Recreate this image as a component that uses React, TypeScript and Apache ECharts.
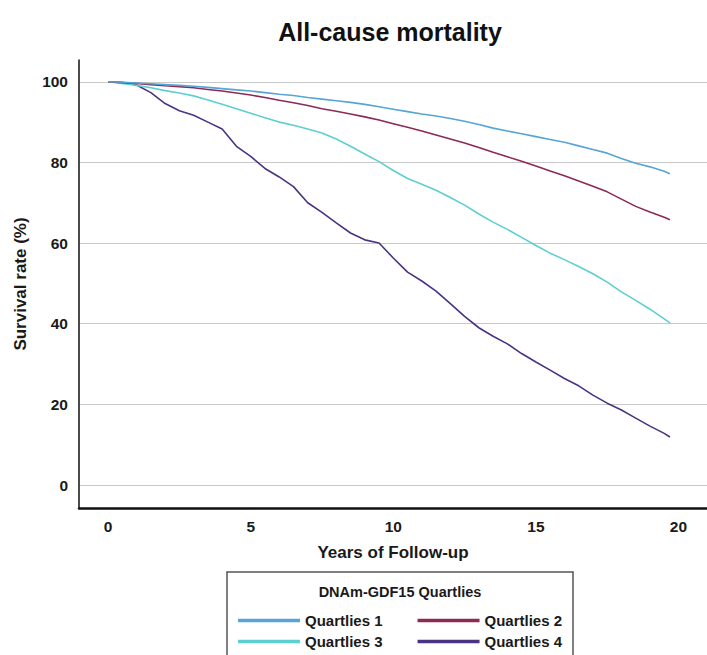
import React, { useEffect, useRef } from "react";
import * as echarts from "echarts";

const years = [0, 0.5, 1, 1.5, 2, 2.5, 3, 3.5, 4, 4.5, 5, 5.5, 6, 6.5, 7, 7.5, 8, 8.5, 9, 9.5, 10, 10.5, 11, 11.5, 12, 12.5, 13, 13.5, 14, 14.5, 15, 15.5, 16, 16.5, 17, 17.5, 18, 18.5, 19, 19.5, 19.7];

const q1 = [100, 99.9, 99.7, 99.5, 99.3, 99.1, 98.9, 98.6, 98.3, 98.0, 97.7, 97.3, 96.9, 96.6, 96.1, 95.7, 95.3, 94.9, 94.4, 93.8, 93.2, 92.6, 92.0, 91.5, 90.9, 90.2, 89.4, 88.5, 87.8, 87.1, 86.4, 85.7, 85.0, 84.1, 83.2, 82.3, 81.0, 79.8, 78.9, 77.8, 77.2];
const q2 = [100, 99.8, 99.6, 99.3, 99.0, 98.8, 98.5, 98.1, 97.7, 97.2, 96.7, 96.1, 95.4, 94.8, 94.1, 93.3, 92.7, 92.0, 91.3, 90.5, 89.6, 88.7, 87.8, 86.8, 85.8, 84.8, 83.7, 82.5, 81.4, 80.3, 79.1, 77.9, 76.7, 75.4, 74.1, 72.7, 70.9, 69.1, 67.7, 66.4, 65.8];
const q3 = [100, 99.6, 99.1, 98.5, 97.8, 97.2, 96.5, 95.5, 94.4, 93.3, 92.2, 91.1, 90.0, 89.2, 88.3, 87.3, 85.8, 84.0, 82.1, 80.2, 78.0, 76.0, 74.6, 73.1, 71.3, 69.4, 67.2, 65.2, 63.4, 61.4, 59.4, 57.5, 55.9, 54.2, 52.4, 50.3, 47.9, 45.8, 43.6, 41.2, 40.2];
const q4 = [100, 99.8, 99.2, 97.3, 94.6, 92.8, 91.7, 90.0, 88.3, 84.0, 81.5, 78.5, 76.4, 74.0, 70.0, 67.6, 65.0, 62.5, 60.8, 60.0, 56.3, 52.8, 50.6, 48.1, 45.0, 41.8, 39.0, 36.9, 35.0, 32.6, 30.5, 28.5, 26.4, 24.6, 22.3, 20.3, 18.6, 16.6, 14.6, 12.8, 11.9];

const seriesNames = ["Quartlies 1", "Quartlies 2", "Quartlies 3", "Quartlies 4"];
const seriesColors = ["#56a5d6", "#8c2a55", "#5ccfd2", "#4b3384"];
const xTicks = [0, 5, 10, 15, 20];
const yTicks = [0, 20, 40, 60, 80, 100];

const FONT = "Liberation Sans, Arial, sans-serif";

export default function App() {
  const ref = useRef<HTMLDivElement>(null);
  useEffect(() => {
    if (!ref.current) return;
    const chart = echarts.init(ref.current, null, { renderer: "svg" });
    const values = [q1, q2, q3, q4];
    const legendText = { fontFamily: FONT, fontWeight: "bold" as const, fontSize: 15, color: "#1a1a1a" };
    chart.setOption({
      animation: false,
      backgroundColor: "#ffffff",
      title: {
        text: "All-cause mortality",
        left: 385,
        top: 14,
        textAlign: "center",
        textStyle: { fontFamily: FONT, fontWeight: "bold", fontSize: 25, color: "#111" },
      },
      grid: { left: 79, right: 0, top: 60, bottom: 147, containLabel: false },
      xAxis: {
        type: "value",
        min: -1.02,
        max: 21,
        name: "Years of Follow-up",
        nameLocation: "middle",
        nameGap: 36,
        nameTextStyle: { fontFamily: FONT, fontWeight: "bold", fontSize: 17, color: "#1a1a1a" },
        axisLine: { show: true, onZero: false, lineStyle: { color: "#111", width: 2.5 } },
        axisTick: { show: false, customValues: xTicks },
        axisLabel: { customValues: xTicks, margin: 10, fontFamily: FONT, fontWeight: "bold", fontSize: 15.5, color: "#1a1a1a" },
        splitLine: { show: false },
      },
      yAxis: {
        type: "value",
        min: -5.7,
        max: 105.4,
        name: "Survival rate (%)",
        nameLocation: "middle",
        nameGap: 50,
        nameTextStyle: { fontFamily: FONT, fontWeight: "bold", fontSize: 17, color: "#1a1a1a" },
        axisLine: { show: true, onZero: false, lineStyle: { color: "#111", width: 1.5 } },
        axisTick: { show: false, customValues: yTicks },
        axisLabel: { customValues: yTicks, margin: 11, fontFamily: FONT, fontWeight: "bold", fontSize: 15.5, color: "#1a1a1a" },
        splitLine: { show: true, lineStyle: { color: "#c9c9c9", width: 1 } },
      },
      legend: [
        {
          data: [seriesNames[0], seriesNames[1]],
          left: 233,
          top: 608,
          icon: "rect",
          itemWidth: 62,
          itemHeight: 3.5,
          itemGap: 35,
          textStyle: legendText,
          selectedMode: false,
        },
        {
          data: [seriesNames[2], seriesNames[3]],
          left: 233,
          top: 629,
          icon: "rect",
          itemWidth: 62,
          itemHeight: 3.5,
          itemGap: 35,
          textStyle: legendText,
          selectedMode: false,
        },
      ],
      graphic: [
        {
          type: "rect",
          shape: { x: 227, y: 572, width: 346, height: 100 },
          style: { fill: "none", stroke: "#555", lineWidth: 1.5 },
          silent: true,
        },
        {
          type: "text",
          x: 400,
          y: 592,
          style: {
            text: "DNAm-GDF15 Quartlies",
            fontFamily: FONT,
            fontWeight: "bold",
            fontSize: 14.5,
            fill: "#1a1a1a",
            align: "center",
            verticalAlign: "middle",
          },
          silent: true,
        },
      ],
      series: values.map((vals, i) => ({
        name: seriesNames[i],
        type: "line",
        symbol: "none",
        showSymbol: false,
        color: seriesColors[i],
        lineStyle: { color: seriesColors[i], width: 1.6 },
        data: years.map((t, j) => [t, vals[j]]),
        z: 10 - i,
      })),
    });
    return () => chart.dispose();
  }, []);
  return <div ref={ref} style={{ position: "fixed", left: 0, top: 0, width: 707, height: 655 }} />;
}
